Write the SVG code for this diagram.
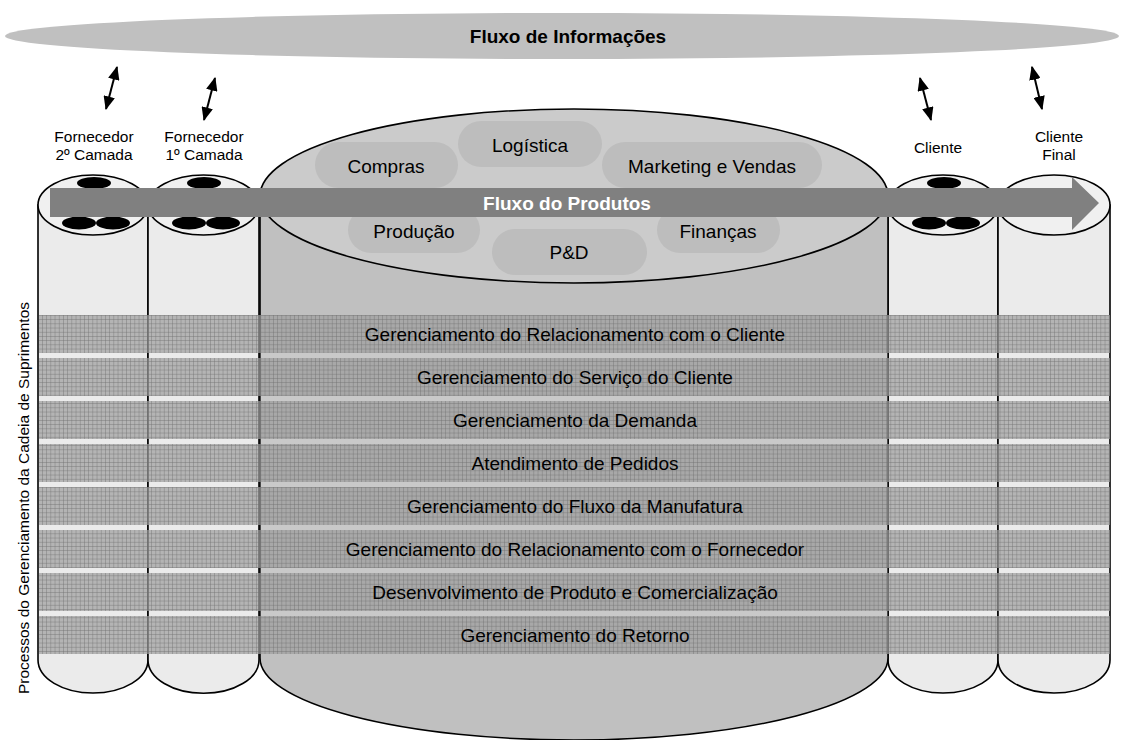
<svg xmlns="http://www.w3.org/2000/svg" width="1122" height="740" viewBox="0 0 1122 740">
<defs>
<style>
text{font-family:"Liberation Sans",Arial,sans-serif;fill:#000}
.lbl{font-size:15.5px;text-anchor:middle}
.big{font-size:19px;text-anchor:middle}
.bold{font-size:19px;font-weight:bold;text-anchor:middle}
.body{fill:#ebebeb;stroke:#000;stroke-width:1.6}
.top{fill:#f0f0f0;stroke:#000;stroke-width:1.6}
.hole{fill:#000}
.pill{fill:#bdbdbd}
.dbl{stroke:#000;stroke-width:2;fill:none;marker-start:url(#ah);marker-end:url(#ah)}
.band{fill:#9e9e9e;fill-opacity:0.72}
.grid{fill:url(#grid)}
</style>
<marker id="ah" viewBox="0 0 12 10" refX="11" refY="5" markerWidth="7" markerHeight="5.8" orient="auto-start-reverse" markerUnits="strokeWidth">
<path d="M0,0 L12,5 L0,10 Z" fill="#000"/>
</marker>
<pattern id="grid" width="4.2" height="4.2" patternUnits="userSpaceOnUse">
<path d="M0,0.4 H4.2 M0.4,0 V4.2" stroke="#6e6e6e" stroke-width="0.8" stroke-opacity="0.5" fill="none"/>
</pattern>
</defs>
<rect width="1122" height="740" fill="#fff"/>

<g id="info-flow">
<ellipse cx="562" cy="36" rx="557" ry="23" fill="#c0c0c0"/>
<text class="bold" x="568" y="43">Fluxo de Informações</text>
</g>

<g id="connectors">
<line class="dbl" x1="117" y1="67" x2="106" y2="109"/>
<line class="dbl" x1="215" y1="78" x2="204" y2="120"/>
<line class="dbl" x1="920" y1="78" x2="931" y2="120"/>
<line class="dbl" x1="1032" y1="67" x2="1042" y2="109"/>
</g>

<g id="labels">
<text class="lbl" x="94" y="142">Fornecedor</text>
<text class="lbl" x="94" y="160">2º Camada</text>
<text class="lbl" x="204" y="142">Fornecedor</text>
<text class="lbl" x="204" y="160">1º Camada</text>
<text class="lbl" x="938" y="153">Cliente</text>
<text class="lbl" x="1059" y="142">Cliente</text>
<text class="lbl" x="1059" y="160">Final</text>
</g>

<g id="fornecedor2">
<path class="body" d="M38,205 V660 A55,33 0 0 0 148,660 V205 Z"/>
<ellipse class="top" cx="93" cy="205" rx="55" ry="30"/>
<ellipse class="hole" cx="94" cy="183" rx="17" ry="6"/>
<ellipse class="hole" cx="79" cy="223" rx="17" ry="6.5"/>
<ellipse class="hole" cx="113" cy="223" rx="17" ry="6.5"/>
</g>
<g id="fornecedor1">
<path class="body" d="M148,205 V660 A55,33 0 0 0 259,660 V205 Z"/>
<ellipse class="top" cx="203.5" cy="205" rx="55.5" ry="30"/>
<ellipse class="hole" cx="204" cy="183" rx="17" ry="6"/>
<ellipse class="hole" cx="189" cy="223" rx="17" ry="6.5"/>
<ellipse class="hole" cx="223" cy="223" rx="17" ry="6.5"/>
</g>
<g id="cliente">
<path class="body" d="M888,205 V660 A55,33 0 0 0 998,660 V205 Z"/>
<ellipse class="top" cx="943" cy="205" rx="55" ry="30"/>
<ellipse class="hole" cx="944" cy="183" rx="17" ry="6"/>
<ellipse class="hole" cx="929" cy="223" rx="17" ry="6.5"/>
<ellipse class="hole" cx="963" cy="223" rx="17" ry="6.5"/>
</g>
<g id="cliente-final">
<path class="body" d="M998,205 V660 A56,33 0 0 0 1110,660 V205 Z"/>
<ellipse class="top" cx="1054" cy="205" rx="56" ry="30"/>
</g>

<g id="empresa">
<path d="M260,196 V658 A314,82 0 0 0 888,658 V196 Z" fill="#c0c0c0" stroke="#000" stroke-width="1.6"/>
<ellipse cx="574" cy="196" rx="314" ry="87" fill="#cbcbcb" stroke="#000" stroke-width="1.6"/>
<rect class="pill" x="315" y="142" width="143" height="46" rx="23"/>
<rect class="pill" x="458" y="121" width="144" height="46" rx="23"/>
<rect class="pill" x="602" y="142" width="220" height="46" rx="23"/>
<rect class="pill" x="348" y="207" width="132" height="46" rx="23"/>
<rect class="pill" x="492" y="229" width="155" height="46" rx="23"/>
<rect class="pill" x="657" y="207" width="123" height="46" rx="23"/>
<text class="big" x="386" y="173">Compras</text>
<text class="big" x="530" y="152">Logística</text>
<text class="big" x="712" y="173">Marketing e Vendas</text>
<text class="big" x="414" y="238">Produção</text>
<text class="big" x="569" y="259">P&amp;D</text>
<text class="big" x="718" y="238">Finanças</text>
</g>

<g id="fluxo-produtos">
<polygon points="50,188 1072,188 1072,177 1099,203 1072,230 1072,217 50,217" fill="#808080"/>
<text class="bold" x="567" y="210" style="fill:#fff">Fluxo do Produtos</text>
</g>

<g id="processos">
<rect x="260" y="353" width="628" height="5" fill="#fff" fill-opacity="0.15"/>
<rect x="260" y="396" width="628" height="5" fill="#fff" fill-opacity="0.15"/>
<rect x="260" y="439" width="628" height="5" fill="#fff" fill-opacity="0.15"/>
<rect x="260" y="482" width="628" height="5" fill="#fff" fill-opacity="0.15"/>
<rect x="260" y="525" width="628" height="5" fill="#fff" fill-opacity="0.15"/>
<rect x="260" y="568" width="628" height="5" fill="#fff" fill-opacity="0.15"/>
<rect x="260" y="611" width="628" height="5" fill="#fff" fill-opacity="0.15"/>
<g>
<rect class="band" x="39" y="315" width="1071" height="38"/>
<rect class="band" x="39" y="358" width="1071" height="38"/>
<rect class="band" x="39" y="401" width="1071" height="38"/>
<rect class="band" x="39" y="444" width="1071" height="38"/>
<rect class="band" x="39" y="487" width="1071" height="38"/>
<rect class="band" x="39" y="530" width="1071" height="38"/>
<rect class="band" x="39" y="573" width="1071" height="38"/>
<rect class="band" x="39" y="616" width="1071" height="38"/>
<rect class="grid" x="39" y="315" width="1071" height="38"/>
<rect class="grid" x="39" y="358" width="1071" height="38"/>
<rect class="grid" x="39" y="401" width="1071" height="38"/>
<rect class="grid" x="39" y="444" width="1071" height="38"/>
<rect class="grid" x="39" y="487" width="1071" height="38"/>
<rect class="grid" x="39" y="530" width="1071" height="38"/>
<rect class="grid" x="39" y="573" width="1071" height="38"/>
<rect class="grid" x="39" y="616" width="1071" height="38"/>
</g>
<text class="big" x="575" y="341">Gerenciamento do Relacionamento com o Cliente</text>
<text class="big" x="575" y="384">Gerenciamento do Serviço do Cliente</text>
<text class="big" x="575" y="427">Gerenciamento da Demanda</text>
<text class="big" x="575" y="470">Atendimento de Pedidos</text>
<text class="big" x="575" y="513">Gerenciamento do Fluxo da Manufatura</text>
<text class="big" x="575" y="556">Gerenciamento do Relacionamento com o Fornecedor</text>
<text class="big" x="575" y="599">Desenvolvimento de Produto e Comercialização</text>
<text class="big" x="575" y="642">Gerenciamento do Retorno</text>
</g>

<g id="eixo">
<text class="lbl" transform="translate(29,498) rotate(-90)">Processos do Gerenciamento da Cadeia de Suprimentos</text>
</g>
</svg>
